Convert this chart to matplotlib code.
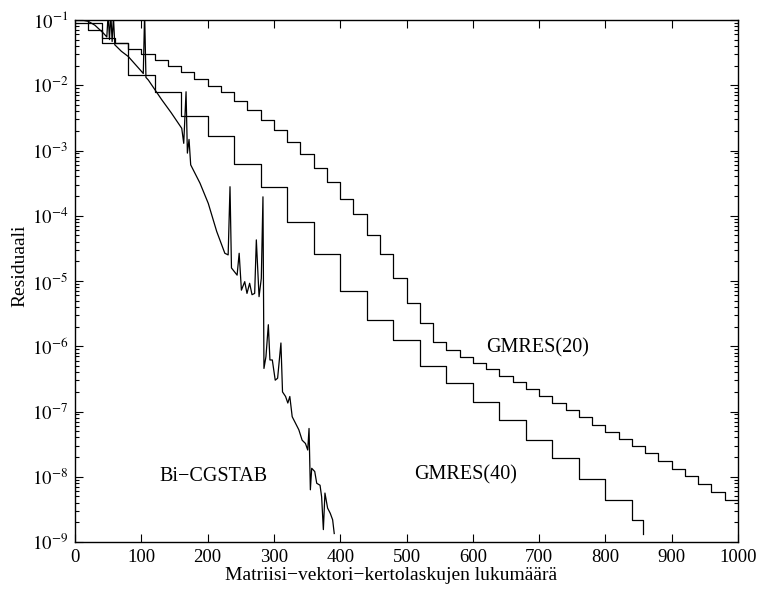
import numpy as np
import matplotlib
matplotlib.use("Agg")
import matplotlib.pyplot as plt
from matplotlib.ticker import LogLocator, FixedLocator, NullFormatter

# ---- data (residuals as log10 values) ----
gmres20_x = list(range(0, 1001, 20))
gmres20_log = [-1.0, -1.16, -1.28, -1.36, -1.44, -1.52, -1.61, -1.70, -1.80, -1.90,
               -2.01, -2.11, -2.24, -2.38, -2.54, -2.69, -2.875, -3.05, -3.27, -3.48,
               -3.74, -3.98, -4.29, -4.58, -4.96, -5.33, -5.64, -5.94, -6.06, -6.16,
               -6.25, -6.35, -6.45, -6.55, -6.66, -6.76, -6.87, -6.98, -7.09, -7.20,
               -7.31, -7.42, -7.53, -7.64, -7.76, -7.88, -7.99, -8.11, -8.23, -8.36,
               -8.36]

gmres40_x = [0, 40, 80, 120, 160, 200, 240, 280, 320, 360, 400, 440, 480, 520, 560,
             600, 640, 680, 720, 760, 800, 840, 857]
gmres40_log = [-1.05, -1.36, -1.84, -2.10, -2.47, -2.78, -3.21, -3.56, -4.10, -4.59,
               -5.15, -5.60, -5.90, -6.30, -6.56, -6.86, -7.13, -7.44, -7.71, -8.04,
               -8.35, -8.67, -8.87]

bicg_x = [0, 10, 20, 30, 42.7, 48, 50, 52, 54, 56, 58, 60, 70, 80.4, 90, 100.5, 103,
          105, 107, 110.6, 124, 130.7, 145, 161, 164, 167.5, 169.5, 172, 174.5, 188.5,
          201, 213.7, 226, 231, 233.8, 236, 244.5, 247.6, 251, 256, 259.4, 263.4, 267,
          271, 273.5, 277.6, 281, 283.5, 285, 288, 291.6, 294, 297.6, 302, 305.6,
          310.6, 313, 317.6, 321, 324, 327.6, 332.6, 337.6, 342.6, 347.6, 351, 353,
          355, 357, 361.6, 364.6, 369.6, 372, 374.6, 377, 381, 385, 388.6, 391]
bicg_log = [-0.98, -1.0, -1.02, -1.08, -1.20, -1.26, -0.9, -1.30, -0.9, -1.33, -0.95,
            -1.38, -1.48, -1.56, -1.67, -1.79, -1.82, -0.9, -1.88, -1.92, -2.12, -2.22,
            -2.42, -2.66, -2.89, -2.10, -3.04, -2.83, -3.22, -3.50, -3.81, -4.24,
            -4.575, -4.60, -3.555, -4.80, -4.91, -4.575, -5.14, -5.01, -5.19, -5.035,
            -5.21, -5.19, -4.37, -5.24, -4.96, -3.71, -6.34, -6.16, -5.67, -6.21,
            -6.21, -6.52, -6.49, -5.95, -6.70, -6.77, -6.87, -6.77, -7.08, -7.18,
            -7.28, -7.44, -7.49, -7.59, -7.26, -8.20, -7.87, -7.92, -8.10, -8.13,
            -8.31, -8.81, -8.25, -8.48, -8.56, -8.66, -8.87]

xticks = list(range(0, 1001, 100))
yticks = [1e-9, 1e-8, 1e-7, 1e-6, 1e-5, 1e-4, 1e-3, 1e-2, 1e-1]
ytick_labels = [r"$10^{-9}$", r"$10^{-8}$", r"$10^{-7}$", r"$10^{-6}$", r"$10^{-5}$",
                r"$10^{-4}$", r"$10^{-3}$", r"$10^{-2}$", r"$10^{-1}$"]

plt.rcParams['font.family'] = ['Liberation Serif', 'DejaVu Serif']
plt.rcParams['mathtext.fontset'] = 'stix'

fig = plt.figure(figsize=(7.63, 5.95), dpi=100)
ax = fig.add_axes([75/763, 1-542/595, (738-75)/763, (542-20)/595])

ax.plot(gmres20_x, 10**np.array(gmres20_log), color='black', lw=0.9, drawstyle='steps-post')
ax.plot(gmres40_x, 10**np.array(gmres40_log), color='black', lw=0.9, drawstyle='steps-post')
ax.plot(bicg_x, 10**np.array(bicg_log), color='black', lw=0.9)

ax.set_yscale('log')
ax.set_xlim(0, 1000)
ax.set_ylim(1e-9, 1e-1)
ax.set_xticks(xticks)
ax.set_xticklabels([str(t) for t in xticks])
ax.yaxis.set_major_locator(FixedLocator(yticks))
ax.set_yticklabels(ytick_labels)
ax.yaxis.set_minor_locator(LogLocator(base=10, subs=np.arange(2, 10), numticks=20))
ax.yaxis.set_minor_formatter(NullFormatter())

ax.tick_params(which='both', direction='in', top=True, right=True, labelsize=13.5,
               width=0.8, pad=5)
ax.tick_params(which='major', length=6)
ax.tick_params(which='minor', length=3)
for s in ax.spines.values():
    s.set_linewidth(1.0)

ax.set_xlabel("Matriisi\u2212vektori\u2212kertolaskujen lukumäärä", fontsize=14)
ax.xaxis.set_label_coords(0.477, -0.047)
ax.set_ylabel("Residuaali", fontsize=14)
ax.yaxis.set_label_coords(-0.07, 0.53)

ax.text(698, 10**-6.03, "GMRES(20)", fontsize=14.5, ha='center', va='center')
ax.text(589.5, 10**-7.97, "GMRES(40)", fontsize=14.5, ha='center', va='center')
ax.text(209, 10**-7.99, "Bi\u2212CGSTAB", fontsize=14.5, ha='center', va='center')

fig.savefig("out.png", dpi=100)
